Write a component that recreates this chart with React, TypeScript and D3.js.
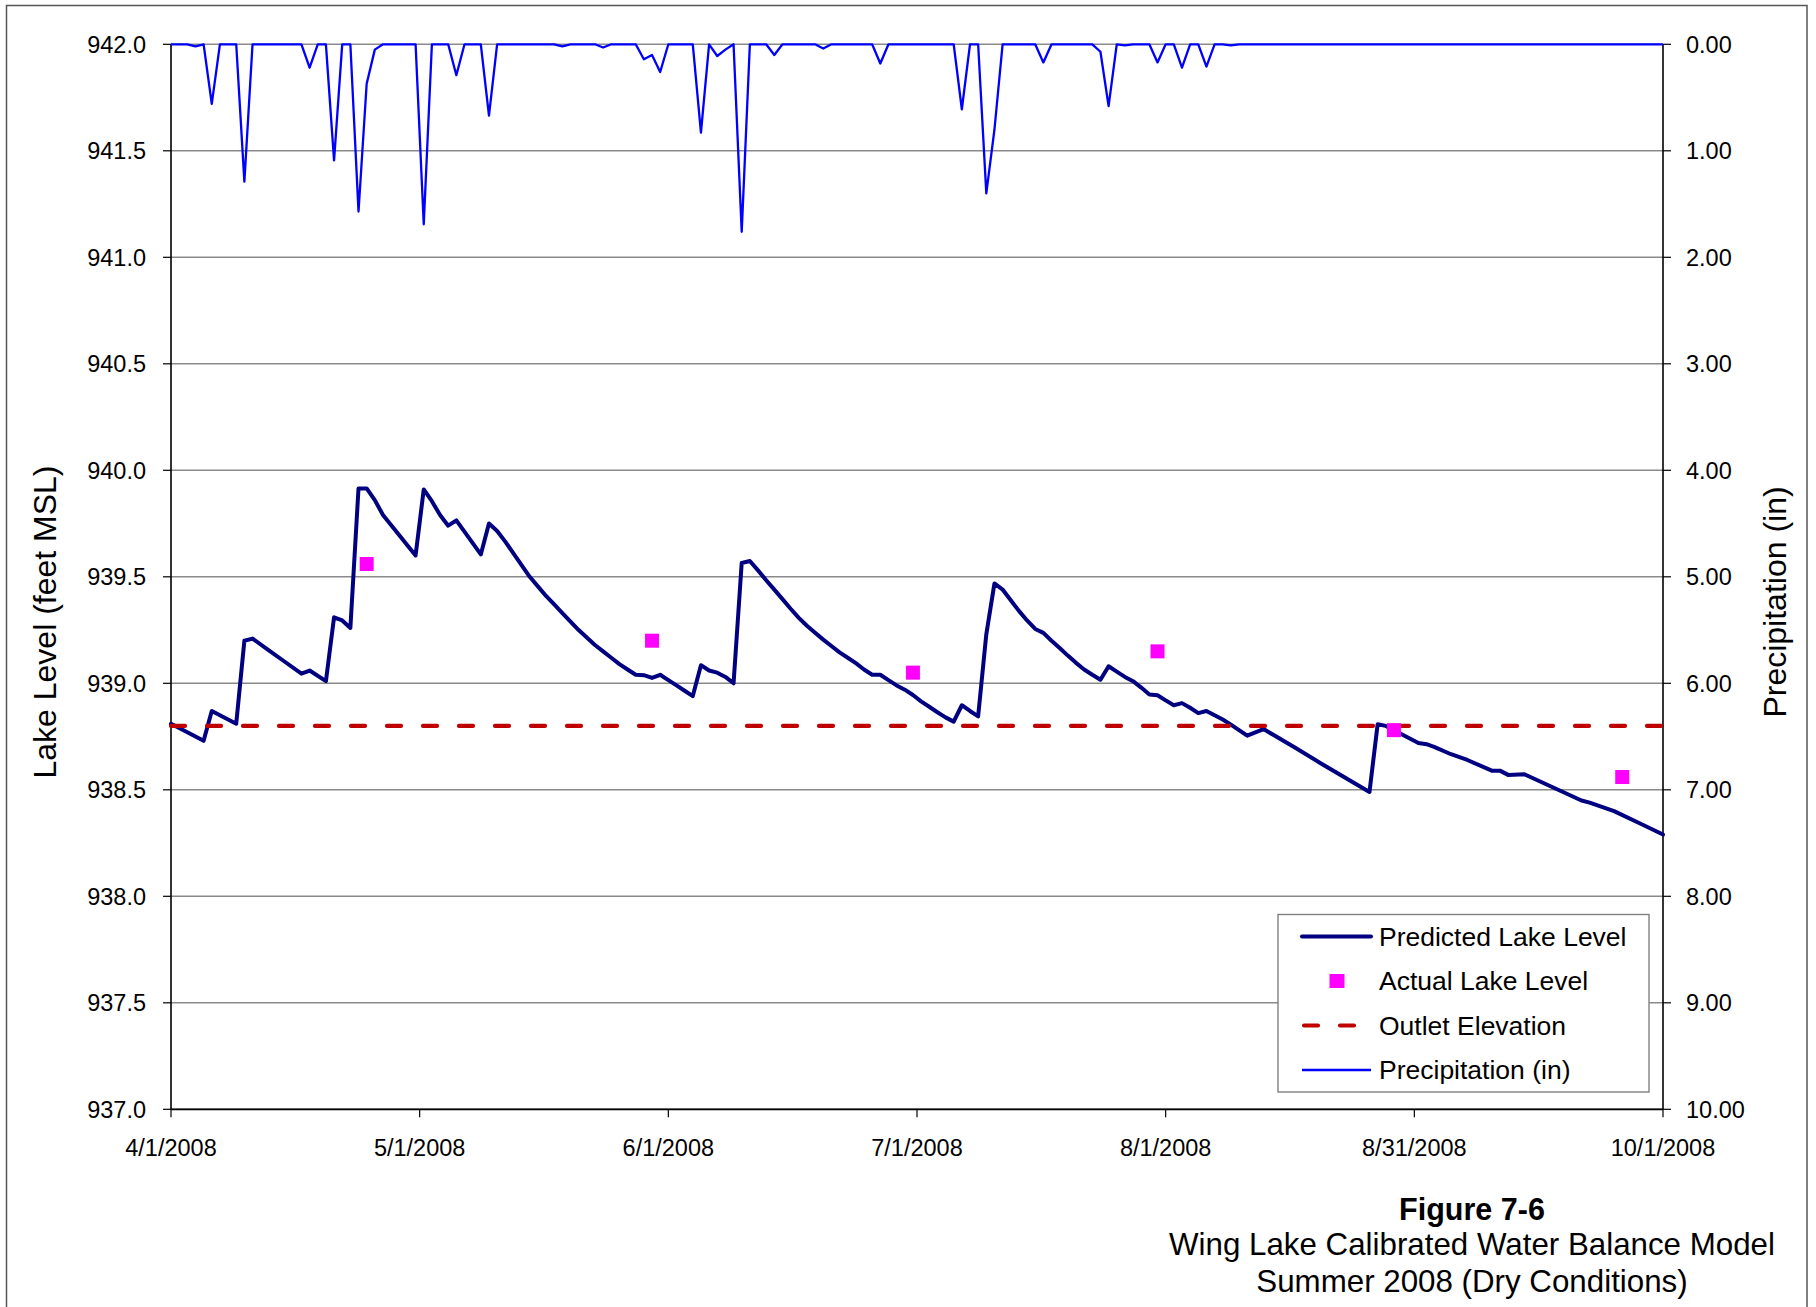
import React from 'react';
import * as d3 from 'd3';

// ---------- data ----------
const xTickDays = [0, 30.5, 61, 91.5, 122, 152.5, 183];
const xTickLabels = ['4/1/2008', '5/1/2008', '6/1/2008', '7/1/2008', '8/1/2008', '8/31/2008', '10/1/2008'];
const lakeTicks = [937.0, 937.5, 938.0, 938.5, 939.0, 939.5, 940.0, 940.5, 941.0, 941.5, 942.0];
const precipTicks = [0, 1, 2, 3, 4, 5, 6, 7, 8, 9, 10];

// Predicted lake level (days since 4/1/2008, feet MSL)
const lakeDays = [
  0, 4, 5, 8, 9, 10, 12, 14, 16, 17, 19, 20, 21, 22, 23, 24, 25, 26, 30, 31, 32, 33, 34, 35, 38, 39, 40,
  41, 42, 43, 44, 45, 46, 47, 48, 49, 50, 51, 52, 53, 54, 55, 56, 57, 58, 59, 60, 61, 62, 63, 64,
  65, 66, 67, 68, 69, 70, 71, 72, 73, 74, 75, 76, 77, 78, 79, 80, 81, 82, 83, 84, 85, 86, 87, 88, 89,
  90, 91, 92, 93, 94, 95, 96, 97, 98, 99, 100, 101, 102, 103, 104, 105, 106, 107, 108, 109, 110, 111,
  112, 113, 114, 115, 116, 117, 118, 119, 120, 121, 122, 123, 124, 125, 126, 127, 128, 129, 130, 131,
  132, 133, 134, 138, 141, 147, 148, 149, 150, 151, 152, 153, 154, 155, 157, 159, 162, 163, 164, 166,
  169, 173, 174, 177, 180, 183,
];
const lakeLevels = [
  938.81, 938.73, 938.87, 938.81, 939.2, 939.21, 939.155, 939.1, 939.045, 939.06, 939.01, 939.31, 939.295,
  939.26, 939.915, 939.915, 939.86, 939.79, 939.6, 939.91, 939.855, 939.79, 939.74, 939.765, 939.605,
  939.75, 939.715,
  939.665, 939.61, 939.555, 939.5, 939.455, 939.41, 939.37, 939.33, 939.29, 939.25, 939.215, 939.18,
  939.15, 939.12, 939.09, 939.065, 939.04, 939.038, 939.025, 939.04, 939.015, 938.99, 938.965, 938.94,
  939.085, 939.06, 939.05, 939.03, 939.0, 939.565, 939.574, 939.53, 939.484, 939.44, 939.395, 939.35,
  939.307, 939.27, 939.237, 939.205, 939.175, 939.145, 939.12, 939.095, 939.065, 939.04, 939.04, 939.015,
  938.99, 938.97, 938.945, 938.915, 938.89, 938.864, 938.84, 938.82, 938.897, 938.87, 938.845, 939.23,
  939.469, 939.44, 939.39, 939.34, 939.295, 939.255, 939.237, 939.2, 939.166, 939.13, 939.096, 939.065,
  939.04, 939.017, 939.08, 939.055, 939.03, 939.01, 938.98, 938.947, 938.944, 938.92, 938.897, 938.907,
  938.885, 938.86, 938.87, 938.85, 938.83, 938.806, 938.78, 938.754, 938.77, 938.785, 938.695, 938.625,
  938.49, 938.808, 938.8, 938.78, 938.76, 938.74, 938.72, 938.714, 938.7, 938.667, 938.64, 938.59,
  938.59, 938.57, 938.573, 938.52, 938.45, 938.44, 938.4, 938.345, 938.29,
];

// Actual (measured) lake level
const actualDays = [24, 59, 91, 121, 150, 178];
const actualLevels = [939.56, 939.2, 939.05, 939.15, 938.78, 938.56];

// Outlet elevation
const outletElevation = 938.8;

// Daily precipitation (in), index = days since 4/1/2008
const precipitation = [
  0, 0, 0, 0.02, 0, 0.56, 0, 0, 0, 1.29,
  0, 0, 0, 0, 0, 0, 0, 0.22, 0, 0,
  1.09, 0, 0, 1.57, 0.37, 0.05, 0, 0, 0, 0,
  0, 1.69, 0, 0, 0, 0.29, 0, 0, 0, 0.67,
  0, 0, 0, 0, 0, 0, 0, 0, 0.02, 0,
  0, 0, 0, 0.03, 0, 0, 0, 0, 0.14, 0.1,
  0.26, 0, 0, 0, 0, 0.83, 0, 0.11, 0.05, 0,
  1.76, 0, 0, 0, 0.1, 0, 0, 0, 0, 0,
  0.04, 0, 0, 0, 0, 0, 0, 0.18, 0, 0,
  0, 0, 0, 0, 0, 0, 0, 0.61, 0, 0,
  1.4, 0.8, 0, 0, 0, 0, 0, 0.17, 0, 0,
  0, 0, 0, 0, 0.07, 0.58, 0, 0.01, 0, 0,
  0, 0.17, 0, 0, 0.22, 0, 0, 0.21, 0, 0,
  0.01, 0, 0, 0, 0, 0, 0, 0, 0, 0,
  0, 0, 0, 0, 0, 0, 0, 0, 0, 0,
  0, 0, 0, 0, 0, 0, 0, 0, 0, 0,
  0, 0, 0, 0, 0, 0, 0, 0, 0, 0,
  0, 0, 0, 0, 0, 0, 0, 0, 0, 0,
  0, 0, 0, 0,
];

const legendLabels = ['Predicted Lake Level', 'Actual Lake Level', 'Outlet Elevation', 'Precipitation (in)'];
const titleLines = ['Figure 7-6', 'Wing Lake Calibrated Water Balance Model', 'Summer 2008 (Dry Conditions)'];

// ---------- layout ----------
const W = 1816;
const H = 1307;
const L = 171;
const R = 1663;
const T = 44.3;
const B = 1109.3;
const FONT = '"Liberation Sans", Arial, Helvetica, sans-serif';

const NAVY = '#000080';
const MAGENTA = '#FF00FF';
const DARKRED = '#C00000';
const BLUE = '#0000FF';

export default function App() {
  const x = d3.scaleLinear().domain([0, 183]).range([L, R]);
  const yL = d3.scaleLinear().domain([937, 942]).range([B, T]);
  const yP = d3.scaleLinear().domain([0, 10]).range([T, B]);

  const lakeData = lakeDays.map((d, i) => [d, lakeLevels[i]] as [number, number]);
  const lakePath = d3
    .line<[number, number]>()
    .x((d) => x(d[0]))
    .y((d) => yL(d[1]))(lakeData) as string;

  const precipPath = d3
    .line<number>()
    .x((_, i) => x(i))
    .y((d) => yP(d))(precipitation) as string;

  const sq = 14;

  // legend
  const lgX = 1278;
  const lgY = 914.5;
  const lgW = 371;
  const lgH = 177.5;
  const rowY = [936.5, 981, 1025.5, 1070];

  return (
    <svg
      width={W}
      height={H}
      style={{ position: 'absolute', left: 0, top: 0, background: '#fff' }}
      fontFamily={FONT}
    >
      <rect x={0} y={0} width={W} height={H} fill="#fff" />
      <rect x={6.5} y={5.5} width={1800.5} height={1400} fill="#fff" stroke="#555" strokeWidth={1.5} />

      {/* gridlines */}
      {lakeTicks.map((t) => (
        <line key={'g' + t} x1={L} x2={R} y1={yL(t)} y2={yL(t)} stroke="#8a8a8a" strokeWidth={1.4} />
      ))}

      {/* left axis */}
      <line x1={L} x2={L} y1={T} y2={B} stroke="#000" strokeWidth={1.6} />
      {lakeTicks.map((t) => (
        <g key={'lt' + t}>
          <line x1={L - 8} x2={L} y1={yL(t)} y2={yL(t)} stroke="#000" strokeWidth={1.2} />
          <text x={L - 25} y={yL(t)} dy="0.36em" textAnchor="end" fontSize={23.5} fill="#000">
            {t.toFixed(1)}
          </text>
        </g>
      ))}

      {/* right axis */}
      <line x1={R} x2={R} y1={T} y2={B} stroke="#000" strokeWidth={1.6} />
      {precipTicks.map((t) => (
        <g key={'rt' + t}>
          <line x1={R} x2={R + 8} y1={yP(t)} y2={yP(t)} stroke="#000" strokeWidth={1.2} />
          <text x={R + 23} y={yP(t)} dy="0.36em" textAnchor="start" fontSize={23.5} fill="#000">
            {t.toFixed(2)}
          </text>
        </g>
      ))}

      {/* bottom axis */}
      <line x1={L} x2={R} y1={B} y2={B} stroke="#000" strokeWidth={1.8} />
      {xTickDays.map((d, i) => (
        <g key={'xt' + i}>
          <line x1={x(d)} x2={x(d)} y1={B} y2={B + 8} stroke="#000" strokeWidth={1.2} />
          <text x={x(d)} y={1156} textAnchor="middle" fontSize={23.5} fill="#000">
            {xTickLabels[i]}
          </text>
        </g>
      ))}

      {/* axis titles */}
      <text
        transform={`translate(56, 622) rotate(-90)`}
        textAnchor="middle"
        fontSize={32}
        fill="#000"
      >
        Lake Level (feet MSL)
      </text>
      <text
        transform={`translate(1786, 602) rotate(-90)`}
        textAnchor="middle"
        fontSize={32}
        fill="#000"
      >
        Precipitation (in)
      </text>

      {/* series */}
      <path d={lakePath} fill="none" stroke={NAVY} strokeWidth={4} strokeLinejoin="round" strokeLinecap="round" />
      <line
        x1={x(0)}
        x2={x(183)}
        y1={yL(outletElevation)}
        y2={yL(outletElevation)}
        stroke={DARKRED}
        strokeWidth={4.2}
        strokeDasharray="14 22"
        strokeLinecap="round"
      />
      {actualDays.map((d, i) => (
        <rect
          key={'a' + i}
          x={x(d) - sq / 2}
          y={yL(actualLevels[i]) - sq / 2}
          width={sq}
          height={sq}
          fill={MAGENTA}
        />
      ))}
      <path d={precipPath} fill="none" stroke={BLUE} strokeWidth={2.3} strokeLinejoin="round" />

      {/* legend */}
      <rect x={lgX} y={lgY} width={lgW} height={lgH} fill="#fff" stroke="#808080" strokeWidth={1.4} />
      <line x1={1302} x2={1371} y1={rowY[0]} y2={rowY[0]} stroke={NAVY} strokeWidth={4} strokeLinecap="round" />
      <rect x={1337 - 7.5} y={rowY[1] - 7} width={15} height={14} fill={MAGENTA} />
      <line
        x1={1304}
        x2={1371}
        y1={rowY[2]}
        y2={rowY[2]}
        stroke={DARKRED}
        strokeWidth={4.2}
        strokeDasharray="14 22"
        strokeLinecap="round"
      />
      <line x1={1302} x2={1371} y1={rowY[3]} y2={rowY[3]} stroke={BLUE} strokeWidth={2.3} />
      {legendLabels.map((lab, i) => (
        <text key={'lg' + i} x={1379} y={rowY[i]} dy="0.35em" fontSize={26.5} fill="#000">
          {lab}
        </text>
      ))}

      {/* titles */}
      <text x={1472} y={1220} textAnchor="middle" fontSize={30.5} fontWeight="bold" fill="#000">
        {titleLines[0]}
      </text>
      <text x={1472} y={1255} textAnchor="middle" fontSize={31.3} fill="#000">
        {titleLines[1]}
      </text>
      <text x={1472} y={1292} textAnchor="middle" fontSize={31.3} fill="#000">
        {titleLines[2]}
      </text>
    </svg>
  );
}
